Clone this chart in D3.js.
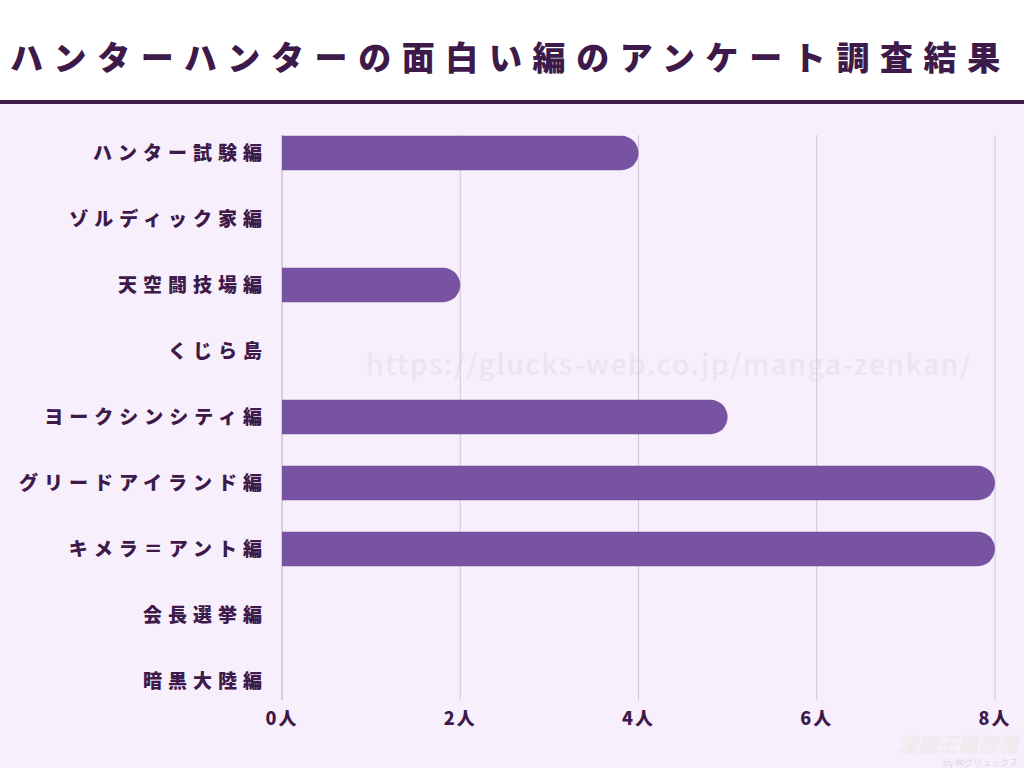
<!DOCTYPE html><html><head><meta charset="utf-8">
<script src="https://cdn.jsdelivr.net/npm/d3@7"></script>
<style>body{margin:0}svg{display:block}</style></head><body>
<svg id="c" width="1024" height="768"></svg>
<script>
const categories=["ハンター試験編","ゾルディック家編","天空闘技場編","くじら島","ヨークシンシティ編","グリードアイランド編","キメラ＝アント編","会長選挙編","暗黒大陸編"];
const values=[4,0,2,0,5,8,8,0,0];
const ticks=[0,2,4,6,8];
const tickLabels=["0人","2人","4人","6人","8人"];
const title="ハンターハンターの面白い編のアンケート調査結果";
const dark="#3d1a4a", barC="#7753a2";
const svg=d3.select("#c");
const F="'Noto Sans CJK JP',sans-serif";
svg.append("rect").attr("width",1024).attr("height",768).attr("fill","#f7effb");
svg.append("rect").attr("width",1024).attr("height",101).attr("fill","#fff");
svg.append("rect").attr("y",100).attr("width",1024).attr("height",4).attr("fill",dark);
svg.append("text").attr("x",10).attr("y",70).attr("font-family",F).attr("font-weight",900).attr("font-size",33).attr("letter-spacing",10.6).attr("fill",dark).text(title);
svg.append("text").attr("x",366).attr("y",375).attr("font-family",F).attr("font-size",28).attr("font-weight",500).attr("letter-spacing",1.6).attr("fill","#ece4ee").text("https://glucks-web.co.jp/manga-zenkan/");
const x=d3.scaleLinear().domain([0,8]).range([282,995]);
const y=d3.scaleBand().domain(categories).range([120,714]).paddingInner(0.48).paddingOuter(0.24);
svg.selectAll(".g").data(ticks).join("line").attr("x1",d=>x(d)).attr("x2",d=>x(d)).attr("y1",135).attr("y2",700).attr("stroke",(d,i)=>i==0?"#b8a6c4":"#cfc4d6").attr("stroke-width",1);
const r=y.bandwidth()/2;
svg.selectAll(".b").data(values.map((v,i)=>({v,c:categories[i]})).filter(d=>d.v>0)).join("path").attr("fill",barC)
 .attr("d",d=>{const x0=x(0),x1=x(d.v),t=y(d.c),h=y.bandwidth();return `M${x0},${t}H${x1-r}A${r},${r} 0 0 1 ${x1-r},${t+h}H${x0}Z`;});
svg.selectAll(".l").data(categories).join("text").attr("x",268).attr("y",d=>y(d)+r).attr("dy","0.35em").attr("text-anchor","end").attr("font-family",F).attr("font-weight",900).attr("font-size",19).attr("letter-spacing",6).attr("fill",dark).text(d=>d);
svg.selectAll(".t").data(ticks).join("text").attr("x",d=>x(d)).attr("y",725).attr("text-anchor","middle").attr("font-family",F).attr("font-weight",900).attr("font-size",18).attr("letter-spacing",2).attr("fill",dark).text((d,i)=>tickLabels[i]);
svg.append("text").attr("x",1018).attr("y",752).attr("text-anchor","end").attr("font-family",F).attr("font-weight",900).attr("font-style","italic").attr("font-size",20).attr("fill","#f3eaee").text("漫画王国部屋");
svg.append("text").attr("x",1018).attr("y",766).attr("text-anchor","end").attr("font-family",F).attr("font-size",9).attr("fill","#e2d6e4").text("by ㈱グリュックス");
</script></body></html>
